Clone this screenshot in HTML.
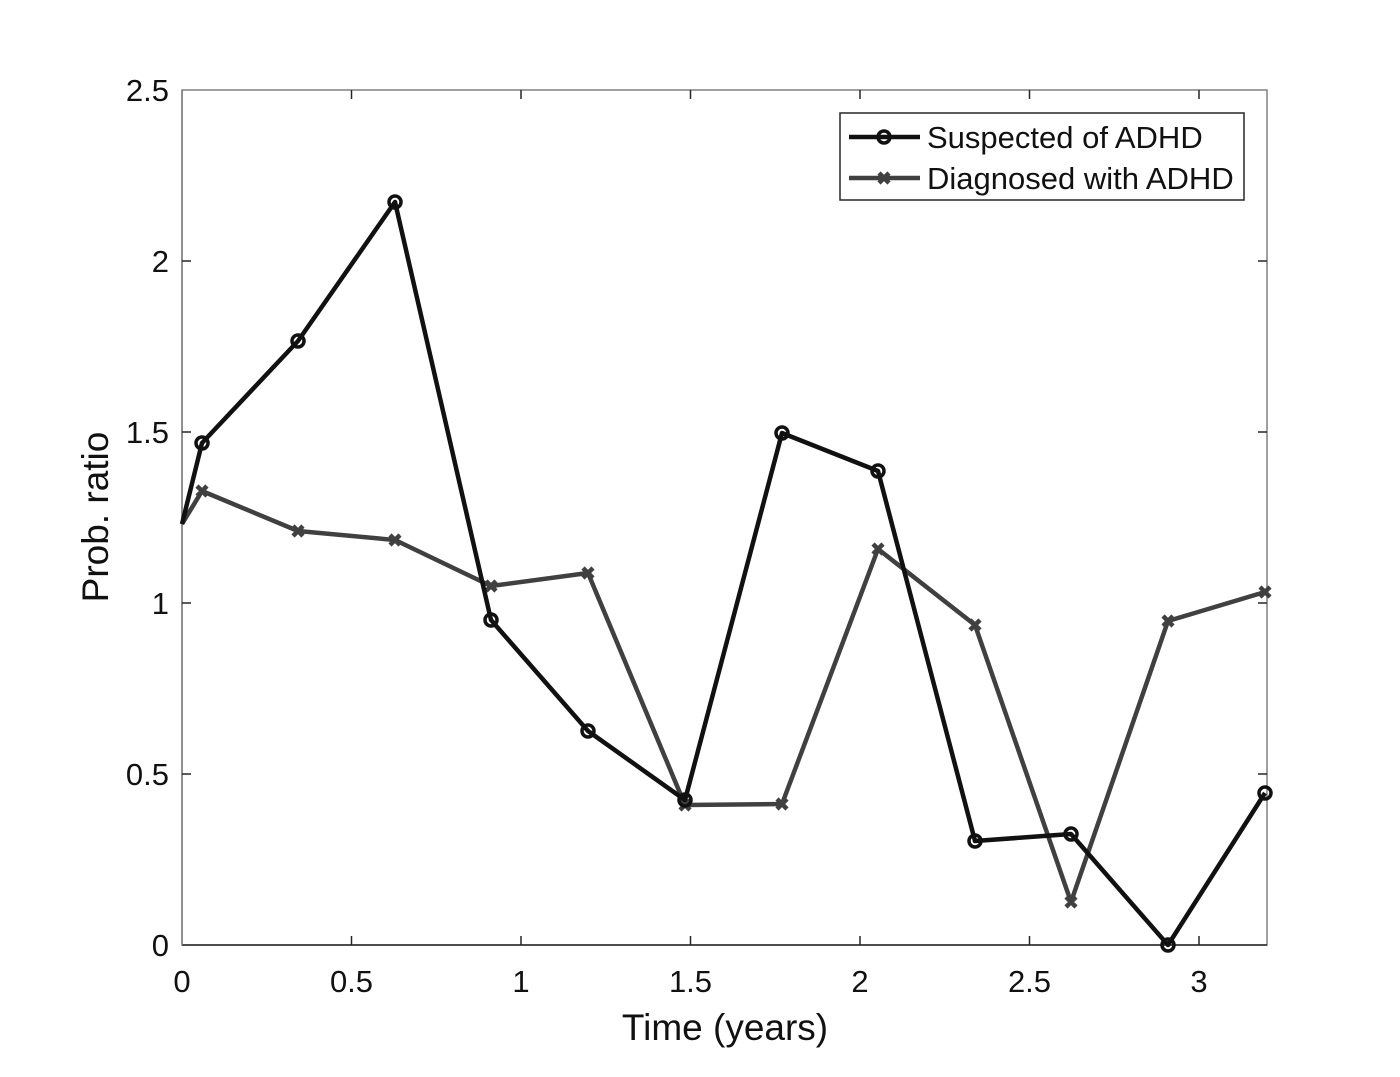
<!DOCTYPE html>
<html><head><meta charset="utf-8"><style>body{margin:0;background:#fff}</style></head><body>
<svg width="1400" height="1072" viewBox="0 0 1400 1072" xmlns="http://www.w3.org/2000/svg" font-family="Liberation Sans, Arial, sans-serif">
<rect width="1400" height="1072" fill="#fff"/>
<g stroke="#262626" stroke-width="1.5" fill="none">
<rect x="182" y="90" width="1085" height="855" stroke="#808080"/>
<line x1="182" y1="945" x2="1267" y2="945"/>
<line x1="182" y1="90" x2="182" y2="945" stroke="#808080"/>
<g>
<line x1="351.5" y1="945" x2="351.5" y2="936"/><line x1="521" y1="945" x2="521" y2="936"/><line x1="690.5" y1="945" x2="690.5" y2="936"/><line x1="860" y1="945" x2="860" y2="936"/><line x1="1029.5" y1="945" x2="1029.5" y2="936"/><line x1="1199" y1="945" x2="1199" y2="936"/>
<line x1="351.5" y1="90" x2="351.5" y2="99"/><line x1="521" y1="90" x2="521" y2="99"/><line x1="690.5" y1="90" x2="690.5" y2="99"/><line x1="860" y1="90" x2="860" y2="99"/><line x1="1029.5" y1="90" x2="1029.5" y2="99"/><line x1="1199" y1="90" x2="1199" y2="99"/>
<line x1="182" y1="774" x2="191" y2="774"/><line x1="182" y1="603" x2="191" y2="603"/><line x1="182" y1="432" x2="191" y2="432"/><line x1="182" y1="261" x2="191" y2="261"/>
<line x1="1267" y1="774" x2="1258" y2="774"/><line x1="1267" y1="603" x2="1258" y2="603"/><line x1="1267" y1="432" x2="1258" y2="432"/><line x1="1267" y1="261" x2="1258" y2="261"/>
</g>
</g>
<g font-size="31" fill="#111" text-anchor="middle">
<text x="182" y="992">0</text><text x="351.5" y="992">0.5</text><text x="521" y="992">1</text><text x="690.5" y="992">1.5</text><text x="860" y="992">2</text><text x="1029.5" y="992">2.5</text><text x="1199" y="992">3</text>
</g>
<g font-size="31" fill="#111" text-anchor="end">
<text x="169" y="956">0</text><text x="169" y="785">0.5</text><text x="169" y="614">1</text><text x="169" y="443">1.5</text><text x="169" y="272">2</text><text x="169" y="101">2.5</text>
</g>
<text x="725" y="1040" font-size="37" text-anchor="middle" fill="#111">Time (years)</text>
<text transform="translate(108,517) rotate(-90)" font-size="37" text-anchor="middle" fill="#111">Prob. ratio</text>
<polyline fill="none" stroke="#404040" stroke-width="4.5" stroke-linejoin="round" points="182,524 202,491 298,531 395,540 491,586 588,573 685,805 782,804 878,549 975,625 1071,902 1168,621 1265,592"/>
<g stroke="#404040" stroke-width="4.5">
<path d="M197,486l10,10M207,486l-10,10M293,526l10,10M303,526l-10,10M390,535l10,10M400,535l-10,10M486,581l10,10M496,581l-10,10M583,568l10,10M593,568l-10,10M680,800l10,10M690,800l-10,10M777,799l10,10M787,799l-10,10M873,544l10,10M883,544l-10,10M970,620l10,10M980,620l-10,10M1066,897l10,10M1076,897l-10,10M1163,616l10,10M1173,616l-10,10M1260,587l10,10M1270,587l-10,10"/>
</g>
<polyline fill="none" stroke="#111" stroke-width="4.5" stroke-linejoin="round" points="182,524 202,443 298,341 395,202 491,620 588,731 685,800 782,433 878,471 975,841 1071,834 1168,945 1265,793"/>
<g fill="none" stroke="#111" stroke-width="3.5">
<circle cx="202" cy="443" r="6"/><circle cx="298" cy="341" r="6"/><circle cx="395" cy="202" r="6"/><circle cx="491" cy="620" r="6"/><circle cx="588" cy="731" r="6"/><circle cx="685" cy="800" r="6"/><circle cx="782" cy="433" r="6"/><circle cx="878" cy="471" r="6"/><circle cx="975" cy="841" r="6"/><circle cx="1071" cy="834" r="6"/><circle cx="1168" cy="945" r="6"/><circle cx="1265" cy="793" r="6"/>
</g>
<rect x="840" y="113" width="404" height="87" fill="#fff" stroke="#262626" stroke-width="1.5"/>
<line x1="849" y1="137" x2="920" y2="137" stroke="#111" stroke-width="4.5"/>
<circle cx="884" cy="137" r="6" fill="none" stroke="#111" stroke-width="3.5"/>
<line x1="849" y1="178" x2="920" y2="178" stroke="#404040" stroke-width="4.5"/>
<path d="M879,173l10,10M889,173l-10,10" stroke="#404040" stroke-width="4.5"/>
<text x="927" y="148" font-size="31" fill="#111">Suspected of ADHD</text>
<text x="927" y="189" font-size="31" fill="#111">Diagnosed with ADHD</text>
</svg>
</body></html>
